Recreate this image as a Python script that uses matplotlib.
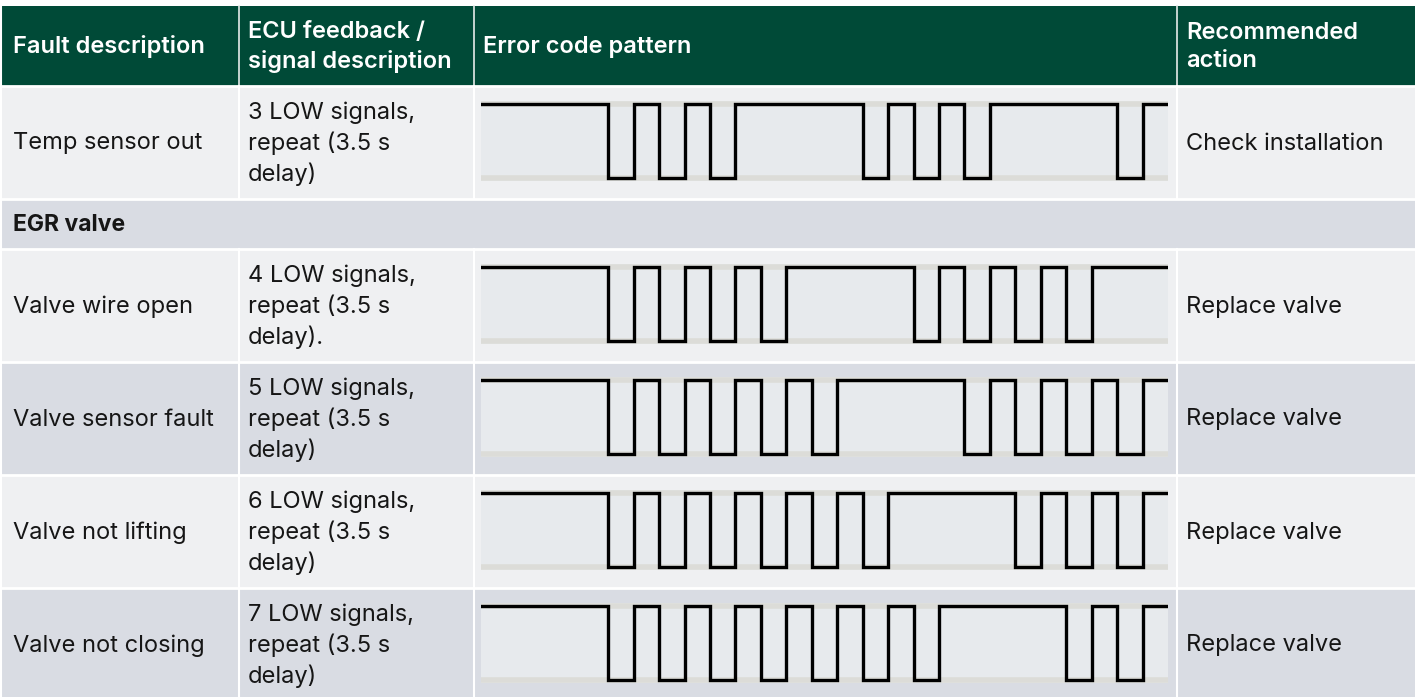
import matplotlib
matplotlib.use("Agg")
import matplotlib.pyplot as plt
from matplotlib.patches import Rectangle
import numpy as np

plt.rcParams['font.family'] = ['Inter', 'DejaVu Sans']

# ---- data ----
headers = ["Fault description", "ECU feedback /\nsignal description",
           "Error code pattern", "Recommended\naction"]
section_title = "EGR valve"
faults = ["Temp sensor out", "Valve wire open", "Valve sensor fault",
          "Valve not lifting", "Valve not closing"]
signal_desc = ["3 LOW signals,\nrepeat (3.5 s\ndelay)",
               "4 LOW signals,\nrepeat (3.5 s\ndelay).",
               "5 LOW signals,\nrepeat (3.5 s\ndelay)",
               "6 LOW signals,\nrepeat (3.5 s\ndelay)",
               "7 LOW signals,\nrepeat (3.5 s\ndelay)"]
low_counts = [3, 4, 5, 6, 7]
actions = ["Check installation", "Replace valve", "Replace valve",
           "Replace valve", "Replace valve"]
lead_units = 5      # initial HIGH duration (units)
gap_units = 5       # delay between bursts (units)
total_units = 27    # visible window length (units)

# ---- layout (pixels) ----
W, H = 1415, 697
col_x = [0, 239, 474, 1177, 1415]
header_top, header_bot = 6, 86
row_h, sec_h = 113, 50

HEADER_C = "#004a37"
LIGHT = "#eff0f2"
DARK = "#d9dce3"
WAVE_BG = "#e7eaed"
GUIDE = "#dcdcd8"
TXT = "#161616"

fig = plt.figure(figsize=(W / 100, H / 100), dpi=100)
ax = fig.add_axes([0, 0, 1, 1])
ax.set_xlim(0, W)
ax.set_ylim(H, 0)
ax.axis('off')

FS = 17
LS = 1.4

# header
ax.add_patch(Rectangle((0, header_top), W, header_bot - header_top, color=HEADER_C, lw=0))
hx = [13, 248, 483, 1186]
for i, h in enumerate(headers):
    ax.text(hx[i], (header_top + header_bot) / 2 + 1, h, color='white',
            fontsize=FS, fontweight='semibold', va='center', ha='left', linespacing=LS)

# rows
rows = []  # (top, height, kind, index)
y = header_bot
rows.append((y, row_h, 'row', 0)); y += row_h
rows.append((y, sec_h, 'sec', None)); y += sec_h
for k in range(1, len(faults)):
    rows.append((y, row_h, 'row', k)); y += row_h

row_colors = [LIGHT, DARK, LIGHT, DARK, LIGHT, DARK]


def square_wave(n_low):
    ts, vs = [0.0], [1]
    t = float(lead_units)
    while t < total_units:
        for j in range(n_low):
            ts.append(t); vs.append(0)
            t += 1
            ts.append(t); vs.append(1)
            t += 1
        t += gap_units - 1
    ts = np.array(ts); vs = np.array(vs)
    keep = ts < total_units
    ts, vs = ts[keep], vs[keep]
    ts = np.append(ts, total_units); vs = np.append(vs, vs[-1])
    return ts, vs


pad = 3 / 74
for r, (top, hgt, kind, idx) in enumerate(rows):
    bottom = min(top + hgt, H)
    color = row_colors[r]
    if kind == 'sec':
        ax.add_patch(Rectangle((0, top), W, bottom - top, color=color, lw=0))
        ax.text(13, (top + bottom) / 2 + 1, section_title, fontsize=FS * 0.97,
                fontweight='bold', va='center', ha='left', color=TXT)
    else:
        for c in range(4):
            ax.add_patch(Rectangle((col_x[c], top), col_x[c + 1] - col_x[c], bottom - top,
                                   color=color, lw=0))
        cy = top + hgt / 2 + 1
        ax.text(13, cy, faults[idx], fontsize=FS, va='center', ha='left', color=TXT)
        ax.text(248, cy, signal_desc[idx], fontsize=FS, va='center', ha='left',
                color=TXT, linespacing=LS)
        ax.text(1186, cy, actions[idx], fontsize=FS, va='center', ha='left', color=TXT)
        # waveform axes
        wx0, wx1 = 481, 1168
        wy0, wy1 = top + 15, top + 95
        wax = fig.add_axes([wx0 / W, 1 - wy1 / H, (wx1 - wx0) / W, (wy1 - wy0) / H])
        wax.set_facecolor(WAVE_BG)
        wax.set_xlim(0, total_units)
        wax.set_ylim(-pad, 1 + pad)
        for s in wax.spines.values():
            s.set_visible(False)
        wax.set_xticks([]); wax.set_yticks([])
        wax.axhline(1, color=GUIDE, lw=4, zorder=1)
        wax.axhline(0, color=GUIDE, lw=4, zorder=1)
        ts, vs = square_wave(low_counts[idx])
        wax.step(ts, vs, where='post', color='black', lw=2.4, zorder=3,
                 solid_joinstyle='miter')
    # horizontal separator
    ax.plot([0, W], [top, top], color='white', lw=2)

# vertical separators
for cx in col_x[1:-1]:
    ax.plot([cx, cx], [header_top, header_bot], color='#e6ece9', lw=1.2)
    for (top, hgt, kind, idx) in rows:
        if kind == 'row':
            ax.plot([cx, cx], [top, min(top + hgt, H)], color='white', lw=1.5)
ax.plot([0.5, 0.5], [header_top, H], color='white', lw=1.5)

fig.savefig("out.png", dpi=100)
